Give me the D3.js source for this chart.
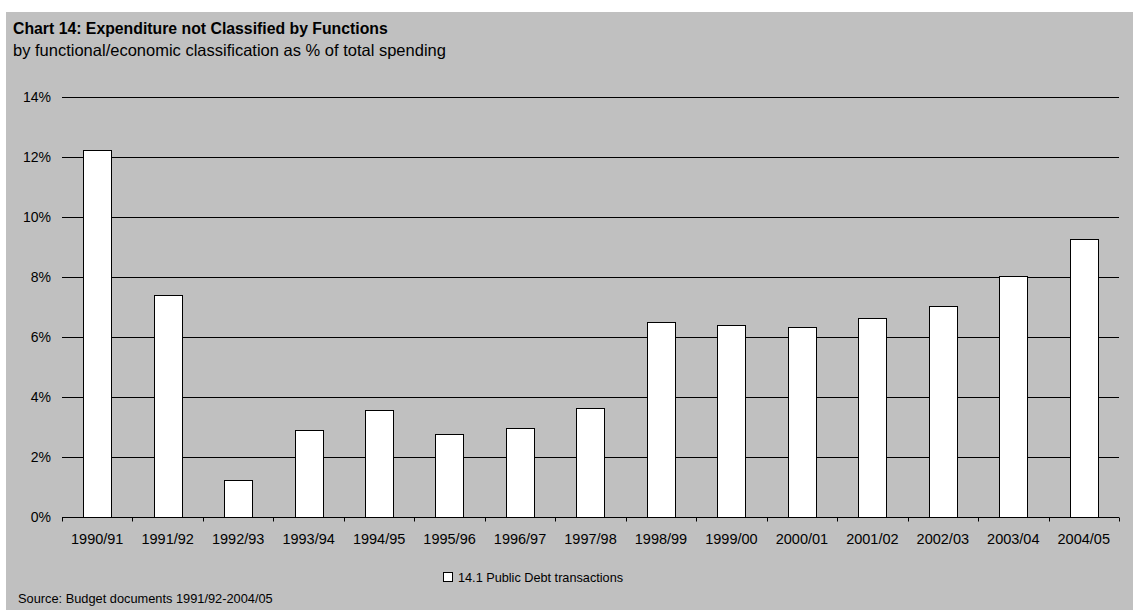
<!DOCTYPE html>
<html>
<head>
<meta charset="utf-8">
<script src="https://cdn.jsdelivr.net/npm/d3@7"></script>
<style>
  body { margin: 0; background: #fff; }
  svg { display: block; font-family: "Liberation Sans", Arial, sans-serif; }
</style>
</head>
<body>
<svg width="1133" height="610"></svg>
<script>
var years = ["1990/91", "1991/92", "1992/93", "1993/94", "1994/95", "1995/96", "1996/97", "1997/98",
             "1998/99", "1999/00", "2000/01", "2001/02", "2002/03", "2003/04", "2004/05"]
var debtShare = [12.25, 7.4, 1.23, 2.9, 3.57, 2.77, 2.96, 3.64, 6.5, 6.4, 6.34, 6.64, 7.04, 8.03, 9.27]
var yTicks = [0, 2, 4, 6, 8, 10, 12, 14]
var seriesName = "14.1 Public Debt transactions"

var width = 1133,
    height = 610,
    margin = { top: 97, bottom: 93, left: 62, right: 14 }

var svg = d3.select("svg")

// grey panel
svg.append("rect")
    .attr("x", 6).attr("y", 12)
    .attr("width", width - 6).attr("height", height - 12)
    .attr("fill", "#c0c0c0")

svg.append("text")
    .attr("x", 13).attr("y", 34)
    .attr("font-size", 15.8).attr("font-weight", "bold")
    .text("Chart 14: Expenditure not Classified by Functions")

svg.append("text")
    .attr("x", 13).attr("y", 56)
    .attr("font-size", 16.5)
    .text("by functional/economic classification as % of total spending")

var x = d3.scaleBand()
    .domain(years)
    .range([margin.left, width - margin.right])
    .padding(0)

var y = d3.scaleLinear()
    .domain([0, 14])
    .range([height - margin.bottom, margin.top])

// gridlines
svg.append("g")
    .selectAll("line")
    .data(yTicks.filter(d => d > 0))
    .enter().append("line")
    .attr("x1", margin.left).attr("x2", width - margin.right)
    .attr("y1", d => Math.round(y(d)) + 0.5).attr("y2", d => Math.round(y(d)) + 0.5)
    .attr("stroke", "#000").attr("stroke-width", 1)

// y labels
svg.append("g")
    .selectAll("text")
    .data(yTicks)
    .enter().append("text")
    .attr("x", 51).attr("y", d => y(d) + 5)
    .attr("text-anchor", "end")
    .attr("font-size", 14)
    .text(d => d + "%")

// bars
var barW = x.bandwidth() * 0.4
svg.append("g")
    .selectAll("rect")
    .data(years)
    .enter().append("rect")
    .attr("x", d => Math.round(x(d) + (x.bandwidth() - barW) / 2) + 0.5)
    .attr("y", (d, i) => Math.round(y(debtShare[i])) + 0.5)
    .attr("width", Math.round(barW))
    .attr("height", (d, i) => Math.round(y(0)) - Math.round(y(debtShare[i])))
    .attr("fill", "#fff")
    .attr("stroke", "#000")
    .attr("stroke-width", 1)

// x axis
var xAxis = svg.append("g")
    .attr("transform", "translate(0," + (Math.round(y(0)) + 0.5) + ")")
xAxis.append("line")
    .attr("x1", margin.left).attr("x2", width - margin.right)
    .attr("stroke", "#000")
xAxis.selectAll(".tick")
    .data(years.map(d => x(d)).concat([width - margin.right]))
    .enter().append("line")
    .attr("x1", d => Math.round(d) + 0.5).attr("x2", d => Math.round(d) + 0.5)
    .attr("y1", 0).attr("y2", 4)
    .attr("stroke", "#000")
xAxis.selectAll("text")
    .data(years)
    .enter().append("text")
    .attr("x", d => x(d) + x.bandwidth() / 2)
    .attr("y", 26)
    .attr("text-anchor", "middle")
    .attr("font-size", 14.5)
    .text(d => d)

// legend
var legend = svg.append("g").attr("transform", "translate(443,572)")
legend.append("rect")
    .attr("x", 0.5).attr("y", 0.5).attr("width", 9).attr("height", 9)
    .attr("fill", "#fff").attr("stroke", "#000")
legend.append("text")
    .attr("x", 15).attr("y", 10)
    .attr("font-size", 12.7)
    .text(seriesName)

svg.append("text")
    .attr("x", 18).attr("y", 603)
    .attr("font-size", 12.8)
    .text("Source: Budget documents 1991/92-2004/05")
</script>
</body>
</html>
